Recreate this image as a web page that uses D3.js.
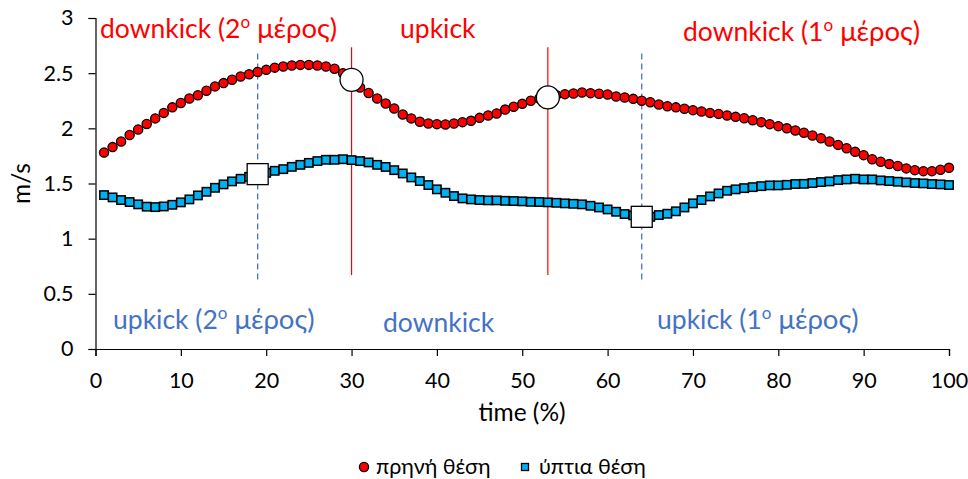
<!DOCTYPE html>
<html>
<head>
<meta charset="utf-8">
<script src="https://cdn.jsdelivr.net/npm/d3@7"></script>
<style>
  body { margin: 0; background: #fff; }
  svg { font-family: Lato, "Liberation Sans", sans-serif; }
</style>
</head>
<body>
<div id="chart"></div>
<script>
// time (%) samples
const times = d3.range(1, 101);

// πρηνή θέση (m/s)
const proneValues = [
  1.78, 1.83, 1.88, 1.94, 1.99, 2.04, 2.09, 2.14, 2.19, 2.23,
  2.27, 2.30, 2.34, 2.38, 2.41, 2.44, 2.47, 2.49, 2.51, 2.53,
  2.55, 2.56, 2.57, 2.575, 2.575, 2.57, 2.56, 2.54, 2.50, 2.44,
  2.37, 2.32, 2.27, 2.225, 2.18, 2.126, 2.09, 2.06, 2.044, 2.038,
  2.035, 2.044, 2.056, 2.068, 2.095, 2.117, 2.135, 2.17, 2.195, 2.222,
  2.25, 2.27, 2.28, 2.30, 2.31, 2.316, 2.325, 2.319, 2.313, 2.307,
  2.289, 2.28, 2.267, 2.25, 2.237, 2.216, 2.20, 2.19, 2.177, 2.165,
  2.153, 2.14, 2.131, 2.117, 2.104, 2.092, 2.074, 2.056, 2.038, 2.02,
  2.0, 1.98, 1.96, 1.935, 1.91, 1.88, 1.85, 1.82, 1.787, 1.757,
  1.72, 1.697, 1.676, 1.658, 1.637, 1.621, 1.612, 1.612, 1.624, 1.642
];

// ύπτια θέση (m/s)
const supineValues = [
  1.395, 1.374, 1.35, 1.332, 1.311, 1.29, 1.286, 1.292, 1.307, 1.329,
  1.356, 1.392, 1.425, 1.461, 1.492, 1.519, 1.543, 1.561, 1.585, 1.597,
  1.615, 1.63, 1.651, 1.669, 1.687, 1.703, 1.715, 1.715, 1.72, 1.712,
  1.703, 1.691, 1.669, 1.65, 1.621, 1.591, 1.555, 1.522, 1.486, 1.447,
  1.416, 1.386, 1.365, 1.356, 1.35, 1.347, 1.347, 1.343, 1.341, 1.338,
  1.334, 1.332, 1.329, 1.325, 1.32, 1.316, 1.311, 1.298, 1.283, 1.265,
  1.244, 1.223, 1.211, 1.198, 1.198, 1.214, 1.226, 1.248, 1.283, 1.32,
  1.35, 1.383, 1.41, 1.434, 1.447, 1.458, 1.467, 1.476, 1.483, 1.483,
  1.488, 1.495, 1.497, 1.504, 1.513, 1.519, 1.531, 1.537, 1.543, 1.537,
  1.537, 1.528, 1.522, 1.516, 1.51, 1.504, 1.501, 1.495, 1.492, 1.486
];

// phase boundaries
const proneBounds = [30, 53];     // red solid lines + open circles
const supineBounds = [19, 64];    // blue dashed lines + open squares
const proneLineRange = [0.67, 2.735];
const supineLineRange = [0.63, 2.70];

const xTicks = d3.range(0, 101, 10);
const yTicks = [0, 0.5, 1, 1.5, 2, 2.5, 3];

const width = 968, height = 479;
const svg = d3.select("#chart").append("svg")
  .attr("width", width)
  .attr("height", height);

const x = d3.scaleLinear().domain([0, 100]).range([95.5, 949]);
const y = d3.scaleLinear().domain([0, 3]).range([349, 18]);

// axes
const xAxis = svg.append("g")
  .attr("transform", `translate(0,${y(0)})`)
  .call(d3.axisBottom(x).tickValues(xTicks).tickSize(7).tickPadding(17));
const yAxis = svg.append("g")
  .attr("transform", `translate(${x(0)},0)`)
  .call(d3.axisLeft(y).tickValues(yTicks).tickSize(7).tickPadding(15).tickFormat(d3.format("")));

[xAxis, yAxis].forEach(a => {
  a.selectAll("path, line").attr("stroke", "#000").attr("stroke-width", 1.2);
  a.selectAll("text").attr("font-size", 21.5).attr("fill", "#000")
    .attr("font-family", "Lato, sans-serif");
});

// axis titles
svg.append("text")
  .attr("x", 522)
  .attr("y", 421)
  .attr("text-anchor", "middle")
  .attr("font-size", 24.5)
  .text("time (%)");

svg.append("text")
  .attr("transform", `translate(30,${y(1.5)}) rotate(-90)`)
  .attr("text-anchor", "middle")
  .attr("font-size", 24.5)
  .text("m/s");

// phase lines
svg.selectAll(".prone-bound")
  .data(proneBounds)
  .enter().append("line")
  .attr("x1", d => x(d)).attr("x2", d => x(d))
  .attr("y1", y(proneLineRange[0])).attr("y2", y(proneLineRange[1]))
  .attr("stroke", "#FF0000").attr("stroke-width", 1.2);

svg.selectAll(".supine-bound")
  .data(supineBounds)
  .enter().append("line")
  .attr("x1", d => x(d)).attr("x2", d => x(d))
  .attr("y1", y(supineLineRange[0])).attr("y2", y(supineLineRange[1]))
  .attr("stroke", "#4472C4").attr("stroke-width", 1.3)
  .attr("stroke-dasharray", "6,4");

// series markers
const prone = times.map((t, i) => ({t, v: proneValues[i]}));
const supine = times.map((t, i) => ({t, v: supineValues[i]}));

svg.append("g").selectAll("rect")
  .data(supine)
  .enter().append("rect")
  .attr("x", d => x(d.t) - 4.2)
  .attr("y", d => y(d.v) - 4.2)
  .attr("width", 8.4).attr("height", 8.4)
  .attr("fill", "#00B0F0")
  .attr("stroke", "#000").attr("stroke-width", 1.5);

svg.append("g").selectAll("circle")
  .data(prone)
  .enter().append("circle")
  .attr("cx", d => x(d.t))
  .attr("cy", d => y(d.v))
  .attr("r", 4.6)
  .attr("fill", "#FF0000")
  .attr("stroke", "#000").attr("stroke-width", 1.3);

// open boundary markers
svg.append("g").selectAll("circle")
  .data(proneBounds)
  .enter().append("circle")
  .attr("cx", d => x(d))
  .attr("cy", d => y(proneValues[times.indexOf(d)]))
  .attr("r", 11.5)
  .attr("fill", "#fff")
  .attr("stroke", "#000").attr("stroke-width", 1.3);

svg.append("g").selectAll("rect")
  .data(supineBounds)
  .enter().append("rect")
  .attr("x", d => x(d) - 10.5)
  .attr("y", d => y(supineValues[times.indexOf(d)]) - 10.5)
  .attr("width", 21).attr("height", 21)
  .attr("fill", "#fff")
  .attr("stroke", "#000").attr("stroke-width", 1.3);

// phase labels
function phaseLabel(px, py, color, main, sup, rest) {
  const t = svg.append("text")
    .attr("x", px).attr("y", py)
    .attr("font-size", 26.5)
    .attr("fill", color);
  t.append("tspan").text(main);
  if (sup) {
    t.append("tspan").attr("font-size", 17).attr("dy", -10).text(sup);
    t.append("tspan").attr("dy", 10).attr("font-size", 27.5).text(rest);
  }
}
phaseLabel(100, 38, "#FF0000", "downkick (2", "o", " μέρος)");
phaseLabel(400, 38, "#FF0000", "upkick");
phaseLabel(683, 41, "#FF0000", "downkick (1", "o", " μέρος)");
phaseLabel(113, 329, "#4472C4", "upkick (2", "o", " μέρος)");
phaseLabel(383, 332, "#4472C4", "downkick");
phaseLabel(657, 329, "#4472C4", "upkick (1", "o", " μέρος)");

// legend
const legend = svg.append("g").attr("font-size", 21.5);
legend.append("circle")
  .attr("cx", 364).attr("cy", 467).attr("r", 4.6)
  .attr("fill", "#FF0000").attr("stroke", "#000").attr("stroke-width", 1.3);
legend.append("text").attr("x", 376).attr("y", 474).text("πρηνή θέση");
legend.append("rect")
  .attr("x", 521.5).attr("y", 463.5).attr("width", 7).attr("height", 7)
  .attr("fill", "#00B0F0").attr("stroke", "#000").attr("stroke-width", 1.3);
legend.append("text").attr("x", 539).attr("y", 474).text("ύπτια θέση");
</script>
</body>
</html>
